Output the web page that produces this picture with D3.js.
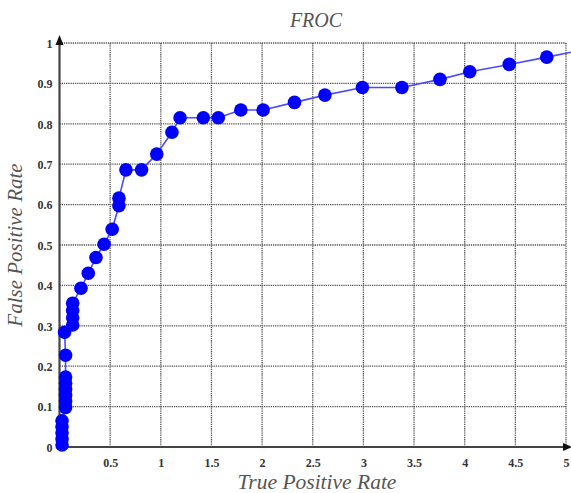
<!DOCTYPE html>
<html>
<head>
<meta charset="utf-8">
<script src="https://cdn.jsdelivr.net/npm/d3@7/dist/d3.min.js"></script>
<style>
  html, body { margin: 0; padding: 0; background: #fff; }
  svg { display: block; }
</style>
</head>
<body>
<svg id="chart" width="571" height="493"></svg>
<script>
const title = "FROC";
const xTitle = "True Positive Rate";
const yTitle = "False Positive Rate";

const xValues = [0.025, 0.025, 0.025, 0.025, 0.025,
  0.06, 0.06, 0.06, 0.06, 0.06, 0.06,
  0.06, 0.05,
  0.13, 0.13, 0.13, 0.13,
  0.212, 0.284, 0.36, 0.44, 0.52, 0.587, 0.587,
  0.656, 0.81, 0.96, 1.11, 1.19, 1.42, 1.568, 1.79, 2.01, 2.32,
  2.62, 2.99, 3.38, 3.756, 4.05, 4.44, 4.81];
const yValues = [0.005, 0.02, 0.035, 0.05, 0.065,
  0.098, 0.113, 0.128, 0.143, 0.158, 0.173,
  0.227, 0.284,
  0.302, 0.32, 0.338, 0.356,
  0.393, 0.43, 0.469, 0.502, 0.539, 0.597, 0.616,
  0.686, 0.686, 0.725, 0.779, 0.815, 0.815, 0.815, 0.834, 0.834, 0.853,
  0.871, 0.89, 0.89, 0.91, 0.929, 0.947, 0.965];
// line continues past the last marker to the edge
const lineEndX = [5.05];
const lineEndY = [0.977];

const xTicks = [0.5, 1, 1.5, 2, 2.5, 3, 3.5, 4, 4.5, 5];
const yTicks = [0, 0.1, 0.2, 0.3, 0.4, 0.5, 0.6, 0.7, 0.8, 0.9, 1];
const xTickLabels = ["0.5", "1", "1.5", "2", "2.5", "3", "3.5", "4", "4.5", "5"];
const yTickLabels = ["0", "0.1", "0.2", "0.3", "0.4", "0.5", "0.6", "0.7", "0.8", "0.9", "1"];

const svg = d3.select("#chart");
const x = d3.scaleLinear().domain([0, 5]).range([59.5, 566]);
const y = d3.scaleLinear().domain([0, 1]).range([447, 43]);

const serif = "'Liberation Serif', 'DejaVu Serif', serif";

// grid
const grid = svg.append("g");
grid.selectAll("line.v").data(xTicks).join("line")
  .attr("x1", d => x(d)).attr("x2", d => x(d))
  .attr("y1", y(0)).attr("y2", y(1))
  .attr("stroke", "#555").attr("stroke-width", 1.3)
  .attr("stroke-dasharray", "1.3,0.9");
grid.selectAll("line.h").data(yTicks.filter(d => d > 0)).join("line")
  .attr("y1", d => y(d)).attr("y2", d => y(d))
  .attr("x1", x(0)).attr("x2", x(5))
  .attr("stroke", "#555").attr("stroke-width", 1.3)
  .attr("stroke-dasharray", "1.3,0.9");

// axes
const xAxis = d3.axisBottom(x).tickValues(xTicks).tickSize(0)
  .tickFormat((d, i) => xTickLabels[i]);
const yAxis = d3.axisLeft(y).tickValues(yTicks).tickSize(0)
  .tickFormat((d, i) => yTickLabels[i]);

const gx = svg.append("g").attr("transform", `translate(0,${y(0)})`).call(xAxis);
gx.select(".domain").remove();
gx.selectAll("text").attr("dy", "0").attr("y", 20)
  .attr("font-family", serif).attr("font-weight", "bold").attr("font-size", 12).attr("fill", "#333");

const gy = svg.append("g").attr("transform", `translate(${x(0)},0)`).call(yAxis);
gy.select(".domain").remove();
gy.selectAll("text").attr("x", -7).attr("dy", "0.35em")
  .attr("font-family", serif).attr("font-weight", "bold").attr("font-size", 12).attr("fill", "#333");

// axis lines with arrows
svg.append("line").attr("x1", x(0)).attr("x2", 566).attr("y1", y(0)).attr("y2", y(0))
  .attr("stroke", "#444").attr("stroke-width", 2.2);
svg.append("line").attr("x1", x(0)).attr("x2", x(0)).attr("y1", y(0)).attr("y2", y(1))
  .attr("stroke", "#444").attr("stroke-width", 2.2);
svg.append("path").attr("d", `M${x(0)-4},${y(1)+2} L${x(0)},${y(1)-8} L${x(0)+4},${y(1)+2} Z`).attr("fill", "#111");
svg.append("path").attr("d", `M${x(5)-3},${y(0)-4} L${x(5)+6},${y(0)} L${x(5)-3},${y(0)+4} Z`).attr("fill", "#111");

// data line
const pts = xValues.map((v, i) => [v, yValues[i]]);
const linePts = pts.concat(lineEndX.map((v, i) => [v, lineEndY[i]]));
svg.append("path").datum(linePts)
  .attr("d", d3.line().x(d => x(d[0])).y(d => y(d[1])))
  .attr("fill", "none").attr("stroke", "#4a4aff").attr("stroke-width", 1.6);

svg.append("g").selectAll("circle").data(pts).join("circle")
  .attr("cx", d => x(d[0])).attr("cy", d => y(d[1])).attr("r", 6.8)
  .attr("fill", "#0000ff");

// titles
svg.append("text").attr("x", 316).attr("y", 27).attr("text-anchor", "middle")
  .attr("font-family", serif).attr("font-style", "italic").attr("font-size", 20).attr("fill", "#555")
  .text(title);
svg.append("text").attr("x", 317).attr("y", 489).attr("text-anchor", "middle")
  .attr("font-family", serif).attr("font-style", "italic").attr("font-size", 21.5).attr("fill", "#555")
  .text(xTitle);
svg.append("text").attr("transform", "translate(22,245) rotate(-90)").attr("text-anchor", "middle")
  .attr("font-family", serif).attr("font-style", "italic").attr("font-size", 21).attr("fill", "#555")
  .text(yTitle);
</script>
</body>
</html>
